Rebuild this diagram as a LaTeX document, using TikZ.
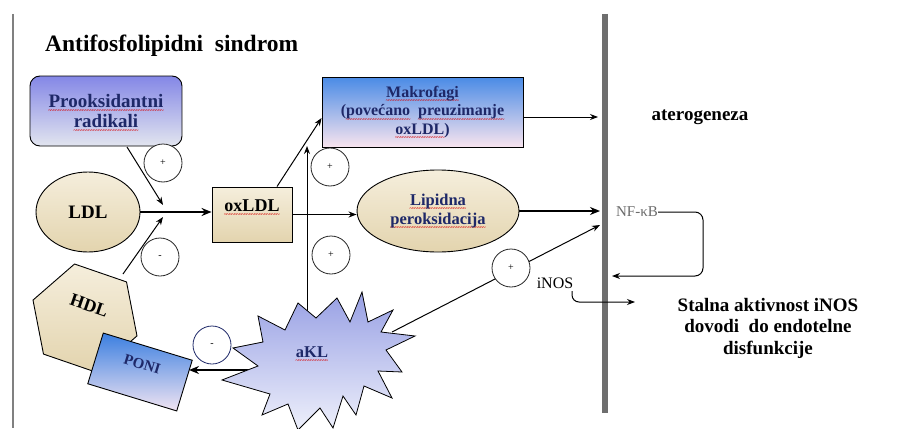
\documentclass[tikz,border=0pt]{standalone}
\usepackage{fontspec}
\setmainfont{Liberation Serif}
\usetikzlibrary{shapes.geometric,arrows.meta}
\newcommand\rw[1]{\leavevmode\setbox0\hbox{#1}\rlap{\raisebox{-5.5pt}[0pt][0pt]{\color{red!85!black}\hbox to\wd0{\xleaders\hbox{\fontsize{6}{6}\selectfont\kern-0.35pt\char`\~\kern-0.35pt}\hfil}}}\box0}
\definecolor{beigeT}{HTML}{F5EEDC}
\definecolor{beigeB}{HTML}{E3D4AE}
\definecolor{proxT}{HTML}{8487E6}
\definecolor{proxB}{HTML}{E2E5EF}
\definecolor{makT}{HTML}{4A8BE6}
\definecolor{makB}{HTML}{F8E4EE}
\definecolor{poniT}{HTML}{3B7FE0}
\definecolor{poniB}{HTML}{F1E4F2}
\definecolor{aklT}{HTML}{98A0E4}
\definecolor{aklB}{HTML}{EEF0FB}
\definecolor{navy}{HTML}{1E2868}
\definecolor{barGray}{HTML}{6E6E6E}
\begin{document}
\begin{tikzpicture}[x=1pt,y=-1pt,
  every node/.style={inner sep=0pt},
  box/.style={draw=black, line width=0.9pt},
  beige/.style={box, top color=beigeT, bottom color=beigeB},
  sign/.style={circle, draw=black!85, line width=0.8pt, minimum size=38pt, fill=white, font=\fontsize{10}{10}\selectfont},
  arr/.style={-{Stealth[length=8pt,width=6pt]}, line width=1pt},
  tarr/.style={-{Stealth[length=10pt,width=8pt]}, line width=2.4pt},
  lbl/.style={font=\bfseries\fontsize{19}{21.5}\selectfont, align=center},
]
\useasboundingbox[fill=white] (0,0) rectangle (904,428);

% frame lines
\draw[line width=1.5pt, draw=gray] (13,14) coordinate (lt) -- (13,428) coordinate (lb);
\draw[line width=6pt, draw=barGray] (605,14) coordinate (bt) -- (605,413) coordinate (bb);

% title
\node[anchor=west, font=\bfseries\fontsize{23.5}{26}\selectfont] (title) at (45,46) {Antifosfolipidni\ \ sindrom};

% nodes
\node[box, rounded corners=10pt, top color=proxT, bottom color=proxB, minimum width=152pt, minimum height=70pt,
      font=\bfseries\fontsize{19}{20}\selectfont, text=navy, align=center] (prox) at (106,111)
      {\rw{Prooksidantni}\\\rw{radikali}};
\node[beige, ellipse, minimum width=104pt, minimum height=80pt, font=\bfseries\fontsize{19}{21}\selectfont] (LDL) at (88,212) {LDL};
\node[beige, regular polygon, regular polygon sides=6, minimum size=110pt, rotate=-19,
      font=\bfseries\fontsize{18}{20}\selectfont] (HDL) at (85,318) {\raisebox{26pt}{HDL}};
\node[box, top color=poniT, bottom color=poniB, minimum width=93pt, minimum height=53pt, rotate=-17,
      font=\bfseries\fontsize{15}{17}\selectfont, text=navy] (poni) at (140,372) {\raisebox{16pt}{PONI}};
\node[beige, minimum width=80pt, minimum height=55pt, font=\bfseries\fontsize{18}{20}\selectfont] (ox) at (252,214.5)
      {\raisebox{18pt}{\rw{oxLDL}}};
\node[box, top color=makT, bottom color=makB, minimum width=201pt, minimum height=70pt,
      font=\bfseries\fontsize{16}{18.5}\selectfont, text=navy, align=center] (mak) at (422.5,112)
      {\rw{Makrofagi}\\(\rw{povećano}\ \ \rw{preuzimanje}\\\rw{oxLDL})};
\node[beige, ellipse, minimum width=162pt, minimum height=82pt, font=\bfseries\fontsize{16.5}{19}\selectfont,
      text=navy, align=center] (lip) at (438,211) {\rw{Lipidna}\\\rw{peroksidacija}};

% sign circles
\node[sign] (s1) at (163,163) {+};
\node[sign] (s2) at (160,257) {-};
\node[sign] (s3) at (330,167) {+};
\node[sign] (s4) at (331,255) {+};
\node[sign, draw=navy] (s5) at (212,345) {-};

% coordinates for free connector ends
\coordinate (pxS) at (127,147);
\coordinate (pxE) at (163,205);
\coordinate (hdlS) at (123,274);
\coordinate (hdlE) at (163,217);
\coordinate (upS) at (307,312);
\coordinate (upE) at (307,146);
\coordinate (aklP) at (250,370);
\coordinate (poniR) at (189,370);
\coordinate (aklR) at (392,332);
\coordinate (barA) at (600,225);
\coordinate (barM) at (598,117);
\coordinate (barL) at (600,211);
\coordinate (lc1) at (703,212);
\coordinate (lc2) at (703,276);
\coordinate (loopE) at (612,276);
\coordinate (inA) at (572,291);
\coordinate (inE) at (635,302);

% connectors
\draw[arr] (pxS) -- (pxE);
\draw[arr] (hdlS) -- (hdlE);
\draw[tarr] (LDL.east) -- (LDL.east -| ox.west);
\draw[arr] ([xshift=25pt]ox.north) -- ([yshift=-6pt]mak.west);
\draw[arr] (ox.east) -- (ox.east -| lip.west);
\draw[arr] (upS) -- (upE);
\draw[tarr] (aklP) -- (poniR);
\draw[arr] ([yshift=-5pt]mak.east) -- (barM);
\draw[tarr] (lip.east) -- (barL);
\draw[arr] (aklR) -- (barA);
\node[sign] (s6) at (511,268) {+};

% aKL star
\draw[box, line width=0.8pt, top color=aklT, bottom color=aklB]
  (362,292) -- (368,322) -- (393,310) -- (381,332) -- (415,336) -- (386,350) -- (402,372) -- (378,371)
  -- (392,398) -- (364,386) -- (356,415) -- (343,396) -- (333,428) -- (320,408) -- (298,430) -- (288,404)
  -- (262,415) -- (270,394) -- (222,380) -- (258,366) -- (233,348) -- (263,342) -- (258,316) -- (285,330)
  -- (298,303) -- (316,318) -- (337,298) -- (350,322) -- cycle;
\node[font=\bfseries\fontsize{16.5}{18}\selectfont, text=navy] (akl) at (312,352) {\rw{aKL}};

% right side
\node[font=\fontsize{15}{15}\selectfont, text=gray!85!black] (nf) at (637,212) {NF-κB};
\draw[arr, rounded corners=8pt] (nf.east) -- (lc1) -- (lc2) -- (loopE);
\node[font=\fontsize{16}{16}\selectfont] (inos) at (555,283) {iNOS};
\draw[arr, rounded corners=7pt] (inA) |- (inE);
\node[font=\bfseries\fontsize{19}{21}\selectfont] (ater) at (700,117) {aterogeneza};
\node[lbl] (stal) at (768,328) {Stalna aktivnost iNOS\\dovodi\ \ do endotelne\\disfunkcije};
\end{tikzpicture}
\end{document}
